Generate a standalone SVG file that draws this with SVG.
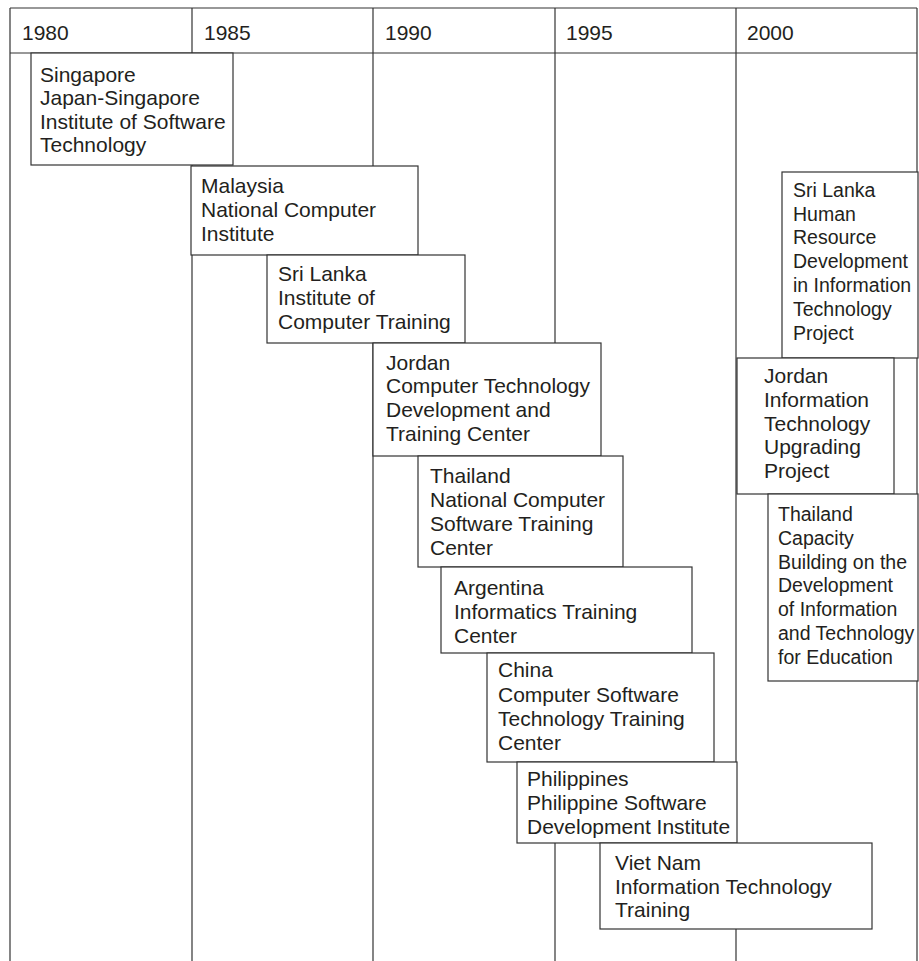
<svg xmlns="http://www.w3.org/2000/svg" width="919" height="961" viewBox="0 0 919 961">
<style>
.g{stroke:#333;stroke-width:1.2;fill:none}
.box{fill:#fff;stroke:#333;stroke-width:1.2}
.t{font-family:"Liberation Sans",Arial,Helvetica,sans-serif;font-size:21px;fill:#231f20}
.s{font-size:19.5px}
</style>
<rect width="919" height="961" fill="#fff"/>
<g id="grid" class="g">
<line x1="10" y1="8" x2="917" y2="8"/>
<line x1="10" y1="53" x2="917" y2="53"/>
<line x1="10" y1="8" x2="10" y2="961"/>
<line x1="192" y1="8" x2="192" y2="961"/>
<line x1="373" y1="8" x2="373" y2="961"/>
<line x1="555" y1="8" x2="555" y2="961"/>
<line x1="736" y1="8" x2="736" y2="961"/>
<line x1="917" y1="8" x2="917" y2="961"/>
</g>
<g id="years" class="t">
<text x="22" y="40">1980</text>
<text x="204" y="40">1985</text>
<text x="385" y="40">1990</text>
<text x="566" y="40">1995</text>
<text x="747" y="40">2000</text>
</g>
<g id="singapore"><rect class="box" x="31" y="53" width="202" height="112"/>
<text class="t"><tspan x="40" y="82">Singapore</tspan><tspan x="40" y="105">Japan-Singapore</tspan><tspan x="40" y="129">Institute of Software</tspan><tspan x="40" y="152">Technology</tspan></text></g>
<g id="malaysia"><rect class="box" x="191" y="166" width="227" height="89"/>
<text class="t"><tspan x="201" y="193">Malaysia</tspan><tspan x="201" y="217">National Computer</tspan><tspan x="201" y="241">Institute</tspan></text></g>
<g id="srilanka"><rect class="box" x="267" y="255" width="198" height="88"/>
<text class="t"><tspan x="278" y="281">Sri Lanka</tspan><tspan x="278" y="305">Institute of</tspan><tspan x="278" y="329">Computer Training</tspan></text></g>
<g id="jordan"><rect class="box" x="373" y="343" width="228" height="113"/>
<text class="t"><tspan x="386" y="370">Jordan</tspan><tspan x="386" y="393">Computer Technology</tspan><tspan x="386" y="417">Development and</tspan><tspan x="386" y="441">Training Center</tspan></text></g>
<g id="thailand"><rect class="box" x="418" y="456" width="205" height="111"/>
<text class="t"><tspan x="430" y="483">Thailand</tspan><tspan x="430" y="507">National Computer</tspan><tspan x="430" y="531">Software Training</tspan><tspan x="430" y="555">Center</tspan></text></g>
<g id="argentina"><rect class="box" x="441" y="567" width="251" height="86"/>
<text class="t"><tspan x="454" y="595">Argentina</tspan><tspan x="454" y="619">Informatics Training</tspan><tspan x="454" y="643">Center</tspan></text></g>
<g id="china"><rect class="box" x="487" y="653" width="227" height="109"/>
<text class="t"><tspan x="498" y="677">China</tspan><tspan x="498" y="702">Computer Software</tspan><tspan x="498" y="726">Technology Training</tspan><tspan x="498" y="750">Center</tspan></text></g>
<g id="philippines"><rect class="box" x="517" y="762" width="220" height="81"/>
<text class="t"><tspan x="527" y="786">Philippines</tspan><tspan x="527" y="810">Philippine Software</tspan><tspan x="527" y="834">Development Institute</tspan></text></g>
<g id="vietnam"><rect class="box" x="600" y="843" width="272" height="86"/>
<text class="t"><tspan x="615" y="870">Viet Nam</tspan><tspan x="615" y="894">Information Technology</tspan><tspan x="615" y="917">Training</tspan></text></g>
<g id="srilanka-hrd"><rect class="box" x="782" y="172" width="136" height="186"/>
<text class="t s"><tspan x="793" y="197">Sri Lanka</tspan><tspan x="793" y="221">Human</tspan><tspan x="793" y="244">Resource</tspan><tspan x="793" y="268">Development</tspan><tspan x="793" y="292">in Information</tspan><tspan x="793" y="316">Technology</tspan><tspan x="793" y="340">Project</tspan></text></g>
<g id="jordan-it"><rect class="box" x="737" y="358" width="157" height="136"/>
<text class="t"><tspan x="764" y="383">Jordan</tspan><tspan x="764" y="407">Information</tspan><tspan x="764" y="431">Technology</tspan><tspan x="764" y="454">Upgrading</tspan><tspan x="764" y="478">Project</tspan></text></g>
<g id="thailand-capacity"><rect class="box" x="768" y="494" width="150" height="187"/>
<text class="t s"><tspan x="778" y="521">Thailand</tspan><tspan x="778" y="545">Capacity</tspan><tspan x="778" y="569">Building on the</tspan><tspan x="778" y="592">Development</tspan><tspan x="778" y="616">of Information</tspan><tspan x="778" y="640">and Technology</tspan><tspan x="778" y="664">for Education</tspan></text></g>
</svg>
